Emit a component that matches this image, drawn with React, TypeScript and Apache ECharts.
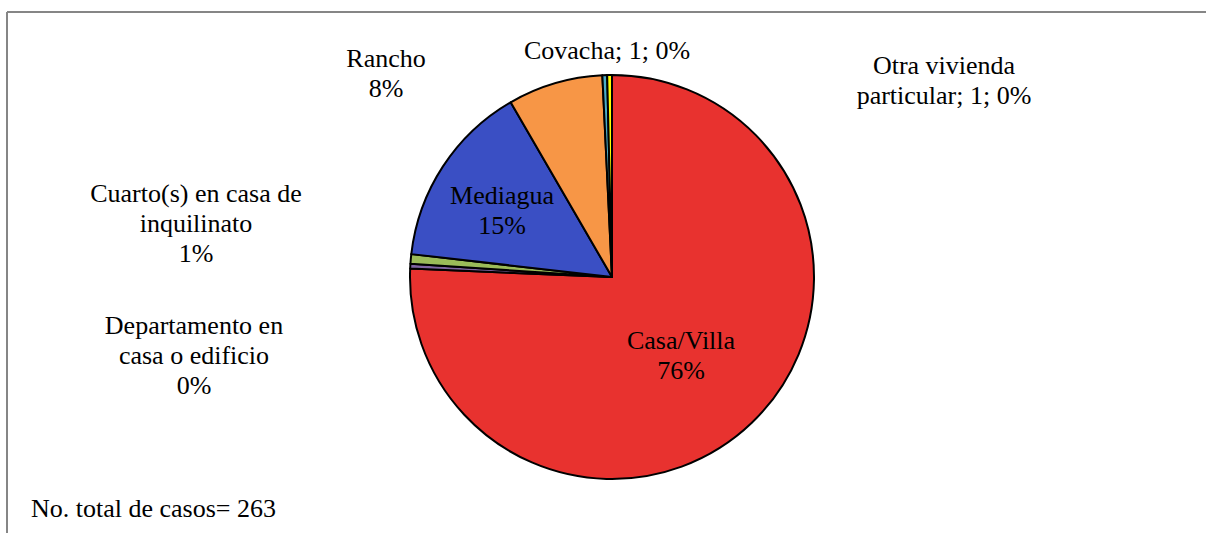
import React, { useEffect, useRef } from "react";
import * as echarts from "echarts";

const categories = [
  "Casa/Villa",
  "Departamento en\ncasa o edificio",
  "Cuarto(s) en casa de\ninquilinato",
  "Mediagua",
  "Rancho",
  "Covacha",
  "Otra vivienda\nparticular",
];
const values = [199, 1, 2, 39, 20, 1, 1];
const colors = ["#E8322F", "#8064A2", "#9BBB59", "#3A4FC4", "#F79646", "#4BACC6", "#FFFF00"];
const showValue = [false, false, false, false, false, true, true];
const footnote = "No. total de casos= 263";

const labelPos: Record<number, [number, number]> = {
  0: [681, 355],
  1: [194, 355],
  2: [196, 223],
  3: [502, 210],
  4: [386, 73],
  5: [607, 50],
  6: [944, 80],
};

export default function App() {
  const ref = useRef<HTMLDivElement>(null);
  useEffect(() => {
    const chart = echarts.init(ref.current!, undefined, { renderer: "svg" });
    const total = values.reduce((a, b) => a + b, 0);
    const font = "Liberation Serif";
    chart.setOption({
      animation: false,
      backgroundColor: "#ffffff",
      graphic: [
        { type: "line", shape: { x1: 7, y1: 12, x2: 1206, y2: 12 }, style: { stroke: "#868686", lineWidth: 2 } },
        { type: "line", shape: { x1: 7, y1: 12, x2: 7, y2: 533 }, style: { stroke: "#868686", lineWidth: 2 } },
        {
          type: "text",
          x: 31,
          y: 508,
          style: { text: footnote, fontFamily: font, fontSize: 26, fill: "#000", verticalAlign: "middle", align: "left" },
        },
      ],
      series: [
        {
          type: "pie",
          center: [612, 277],
          radius: 202,
          startAngle: 90,
          clockwise: true,
          avoidLabelOverlap: false,
          data: categories.map((n, i) => ({
            name: n,
            value: values[i],
            itemStyle: { color: colors[i] },
            label: { position: i === 0 || i === 3 ? "inside" : "outside" },
          })),
          itemStyle: { borderColor: "#000", borderWidth: 2 },
          label: {
            show: true,
            fontFamily: font,
            fontSize: 26,
            lineHeight: 30,
            color: "#000",
            align: "center",
            formatter: (p: any) => {
              const pct = Math.round((p.value / total) * 100);
              if (showValue[p.dataIndex]) return `${p.name}; ${p.value}; ${pct}%`;
              return `${p.name}\n${pct}%`;
            },
          },
          labelLine: { show: false },
          labelLayout: (params: any) => {
            const pos = labelPos[params.dataIndex];
            return { x: pos[0], y: pos[1], align: "center", verticalAlign: "middle" };
          },
          emphasis: { disabled: true },
        },
      ],
    });
    return () => chart.dispose();
  }, []);
  return (
    <div
      ref={ref}
      style={{ position: "fixed", left: 0, top: 0, width: 1206, height: 533 }}
    />
  );
}
